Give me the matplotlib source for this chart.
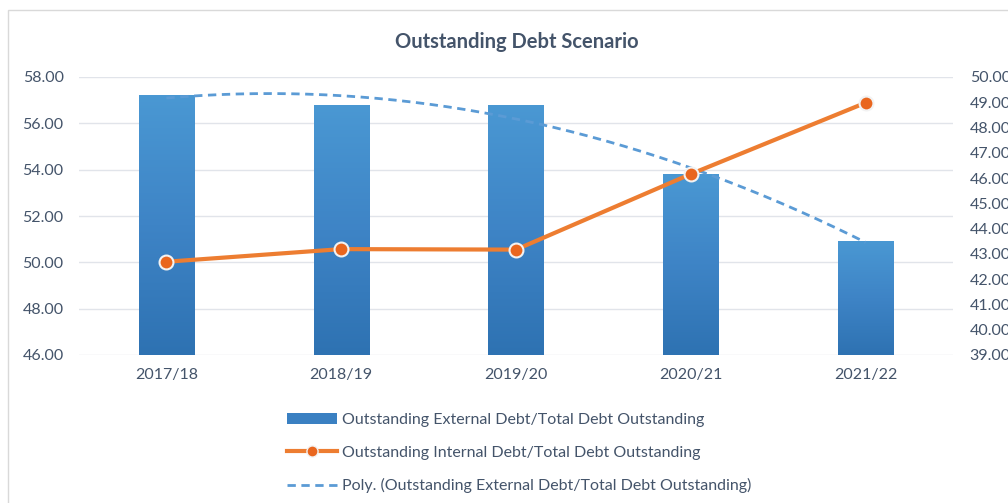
import matplotlib
matplotlib.use("Agg")
import matplotlib.pyplot as plt
import numpy as np
from matplotlib.colors import LinearSegmentedColormap
from matplotlib.lines import Line2D
from matplotlib.patches import Patch, Rectangle

years = ["2017/18", "2018/19", "2019/20", "2020/21", "2021/22"]
external = [57.22, 56.75, 56.75, 53.77, 50.92]
internal = [42.69, 43.19, 43.17, 46.16, 48.98]

lbl_ext = "Outstanding External Debt/Total Debt Outstanding"
lbl_int = "Outstanding Internal Debt/Total Debt Outstanding"
lbl_poly = "Poly. (Outstanding External Debt/Total Debt Outstanding)"

plt.rcParams['font.family'] = ['Lato', 'DejaVu Sans']
txt = '#44546A'

fig = plt.figure(figsize=(10.08, 5.03), dpi=100)
fig.patches.append(Rectangle((0.008, -0.01), 1.0, 0.99, transform=fig.transFigure,
                             fill=False, edgecolor='#D9D9D9', lw=1))
ax = fig.add_axes([79/1008, 1-355/503, (953-79)/1008, (355-77)/503])
ax2 = ax.twinx()

x = np.arange(len(years))
bars = ax.bar(x, external, width=0.315, color='#3F87C8', zorder=2)

# gradient fill for the bars
cmap = LinearSegmentedColormap.from_list('g', ['#4A98D3', '#3E84C6', '#2E72B2'])
grad = np.linspace(0, 1, 256).reshape(-1, 1)
for b in bars:
    ax.imshow(grad, extent=[b.get_x(), b.get_x()+b.get_width(), 46, b.get_height()],
              aspect='auto', cmap=cmap, zorder=2.1)

# polynomial trendline (order 2)
coef = np.polyfit(x, external, 2)
xs = np.linspace(0, 4, 200)
ax.plot(xs, np.polyval(coef, xs), ls=(0, (3, 2)), color='#5B9BD5', lw=2, zorder=3)

ax.set_xlim(-0.5, 4.5)
ax.set_ylim(46, 58)
ax.set_yticks(np.arange(46, 58.1, 2))
ax.set_yticklabels([f"{v:.2f}" for v in np.arange(46, 58.1, 2)])
ax.set_xticks(x)
ax.set_xticklabels(years)
ax.grid(axis='y', color='#E1E4EA', lw=1, zorder=0)
ax.set_axisbelow(True)

ax2.plot(x, internal, color='#ED7D31', lw=3, marker='o', ms=10,
         markerfacecolor='#E9661E', markeredgecolor='#F2F2F2', markeredgewidth=1.5, zorder=5)
ax2.set_ylim(39, 50)
ax2.set_yticks(np.arange(39, 50.1, 1))
ax2.set_yticklabels([f"{v:.2f}" for v in np.arange(39, 50.1, 1)])

for a in (ax, ax2):
    for s in a.spines.values():
        s.set_visible(False)
    a.tick_params(length=0, labelsize=11.5, labelcolor=txt)
ax.tick_params(axis='y', pad=11)
ax.tick_params(axis='x', pad=9)
ax2.tick_params(axis='y', pad=12)

fig.text(0.513, 1-42/503, "Outstanding Debt Scenario", ha='center', va='center',
         fontsize=14.5, fontweight='bold', color=txt)

handles = [
    Patch(facecolor='#3A80C2', edgecolor='none'),
    Line2D([], [], color='#ED7D31', lw=3, marker='o', ms=8,
           markerfacecolor='#E9661E', markeredgecolor='#F2F2F2'),
    Line2D([], [], color='#5B9BD5', lw=2, ls=(0, (3, 2))),
]
leg = fig.legend(handles, [lbl_ext, lbl_int, lbl_poly], loc='upper center',
                 bbox_to_anchor=(0.515, 1-405/503), frameon=False, fontsize=11.5,
                 handlelength=3.1, handletextpad=0.3, labelspacing=1.15, borderpad=0)
for t in leg.get_texts():
    t.set_color(txt)

fig.savefig("out.png", dpi=100)
